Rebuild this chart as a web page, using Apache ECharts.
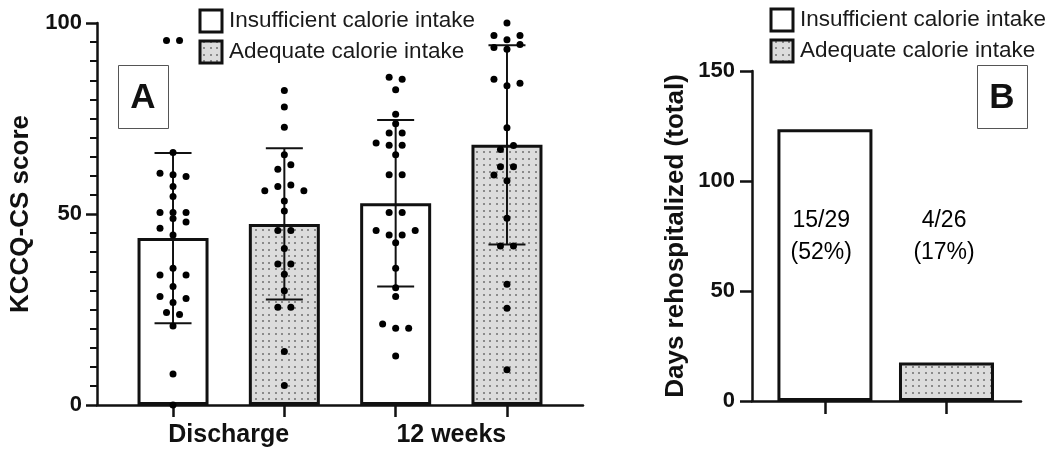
<!DOCTYPE html>
<html><head><meta charset="utf-8">
<script src="https://cdn.jsdelivr.net/npm/echarts@6/dist/echarts.min.js"></script>
<style>html,body{margin:0;padding:0;background:#fff}#c{width:1050px;height:455px}</style>
</head><body><div id="c"></div>
<script>
// ---------- DATA ----------
const timepoints = ['Discharge', '12 weeks'];
const groupNames = ['Insufficient calorie intake', 'Adequate calorie intake'];

const kccqMeanInsufficient = [43.7, 52.8];
const kccqSdInsufficient   = [22.3, 21.8];
const kccqMeanAdequate     = [47.4, 68.1];
const kccqSdAdequate       = [19.8, 26.1];

// individual KCCQ-CS scores (with beeswarm column offsets, in dot widths)
const dischargeInsufficient = [95.4, 95.4, 66.1, 60.7, 60.3, 59.8, 57.2, 54.6, 50.4, 50.4, 50.4, 48.8, 47.9, 46.3, 44.5, 35.8, 34.0, 34.0, 31.0, 28.4, 27.9, 26.8, 24.2, 23.7, 20.7, 8.1, 0];
const dischargeInsufficientCol = [-0.5, 0.5, 0, -1, 0, 1, 0, 0, -1, 0, 1, 0, 1, -1, 0, 0, -1, 1, 0, -1, 1, 0, -0.5, 0.5, 0, 0, 0];
const dischargeAdequate = [82.3, 78.0, 72.7, 65.5, 62.9, 61.7, 57.6, 57.2, 56.1, 56.1, 53.4, 50.8, 45.7, 45.7, 41.0, 36.9, 36.9, 34.2, 29.9, 25.6, 25.6, 14.0, 5.1];
const dischargeAdequateCol = [0, 0, 0, 0, 0.5, -0.5, 0.5, -0.5, -1.5, 1.5, 0, 0, -0.5, 0.5, 0, -0.5, 0.5, 0, 0, -0.5, 0.5, 0, 0];
const week12Insufficient = [85.8, 85.3, 82.5, 76.1, 73.6, 71.2, 71.2, 68.6, 68.0, 68.0, 65.5, 60.3, 60.3, 50.4, 50.4, 45.7, 45.7, 44.5, 44.5, 42.5, 35.8, 30.7, 28.4, 21.2, 20.1, 20.1, 12.8];
const week12InsufficientCol = [-0.5, 0.5, 0, 0, 0, -0.5, 0.5, -1.5, -0.5, 0.5, 0, -0.5, 0.5, -0.5, 0.5, -1.5, 1.5, -0.5, 0.5, 0, 0, 0, 0, -1, 0, 1, 0];
const week12Adequate = [100, 96.7, 96.7, 95.6, 94.4, 93.6, 93.1, 85.3, 84.2, 83.6, 72.6, 67.9, 66.9, 62.4, 62.4, 60.2, 58.7, 48.9, 41.6, 41.6, 31.6, 25.3, 9.2];
const week12AdequateCol = [0, -1, 1, 0, 1, -1, 0, -1, 1, 0, 0, 0.5, -0.5, -0.5, 0.5, -1, 0, 0, -0.5, 0.5, 0, 0, 0];

const daysRehospitalized = [123.5, 17.5];
const rehospLabels = ['15/29\n(52%)', '4/26\n(17%)'];

const yTicksA = [0, 50, 100];
const yTicksB = [0, 50, 100, 150];

// ---------- STYLE / BUILD ----------
const FONT = '"Liberation Sans", Arial, sans-serif';
const INK = '#111';
function makePattern() {
  const c = document.createElement('canvas');
  c.width = 13; c.height = 13;
  const g = c.getContext('2d');
  g.fillStyle = '#dcdcdc'; g.fillRect(0, 0, 13, 13);
  g.fillStyle = '#8a8a8a';
  [[2, 2], [8, 2], [2, 8], [8, 8]].forEach(([x, y]) => g.fillRect(x, y, 2, 2));
  return c;
}
const dotted = { image: makePattern(), repeat: 'repeat' };

const DOT_STEP = 0.117; // x-units per dot column
function pos(t, g) { return 2 * t + g + 1; }
function dots(vals, cols, x) { return vals.map((v, i) => [x + cols[i] * DOT_STEP, v]); }

const allDots = [].concat(
  dots(dischargeInsufficient, dischargeInsufficientCol, pos(0, 0)),
  dots(dischargeAdequate, dischargeAdequateCol, pos(0, 1)),
  dots(week12Insufficient, week12InsufficientCol, pos(1, 0)),
  dots(week12Adequate, week12AdequateCol, pos(1, 1))
);
const errData = [];
timepoints.forEach((t, i) => {
  errData.push([pos(i, 0), kccqMeanInsufficient[i], kccqSdInsufficient[i]]);
  errData.push([pos(i, 1), kccqMeanAdequate[i], kccqSdAdequate[i]]);
});
const labelMap = {};
timepoints.forEach((t, i) => { labelMap[(pos(i, 0) + pos(i, 1)) / 2] = t; });

const chart = echarts.init(document.getElementById('c'), null, { renderer: 'canvas' });

const axisLineStyle = { color: INK, width: 2.5 };
function legendGraphic(x0, y0) {
  return [
    { type: 'rect', shape: { x: x0, y: y0, width: 22, height: 22 }, style: { fill: '#fff', stroke: INK, lineWidth: 3 } },
    { type: 'text', x: x0 + 29, y: y0 + 11, style: { text: groupNames[0], font: '22.5px ' + FONT, fill: '#1a1a1a', verticalAlign: 'middle' } },
    { type: 'rect', shape: { x: x0, y: y0 + 31, width: 22, height: 22 }, style: { fill: dotted, stroke: INK, lineWidth: 3 } },
    { type: 'text', x: x0 + 29, y: y0 + 42, style: { text: groupNames[1], font: '22.5px ' + FONT, fill: '#1a1a1a', verticalAlign: 'middle' } }
  ];
}
function panelLabel(x, y, letter) {
  return [
    { type: 'rect', shape: { x: x + 0.5, y: y + 0.5, width: 50, height: 63 }, style: { fill: '#fff', stroke: '#555', lineWidth: 1 } },
    { type: 'text', x: x + 25, y: y + 33, style: { text: letter, font: 'bold 35px ' + FONT, fill: INK, align: 'center', verticalAlign: 'middle' } }
  ];
}

chart.setOption({
  animation: false,
  backgroundColor: '#fff',
  grid: [
    { left: 97, top: 23, width: 486, height: 382 },
    { left: 752, top: 71, width: 269, height: 330 }
  ],
  xAxis: [
    {
      type: 'value', gridIndex: 0, min: 0.317, max: 4.683,
      splitLine: { show: false },
      axisLine: { show: true, lineStyle: axisLineStyle },
      axisTick: { show: true, customValues: [1, 2, 3, 4], length: 12, lineStyle: { color: INK, width: 2.5 } },
      axisLabel: {
        customValues: Object.keys(labelMap).map(Number),
        formatter: v => labelMap[v] || '',
        margin: 18, fontSize: 25, fontWeight: 'bold', color: INK, fontFamily: FONT
      }
    },
    {
      type: 'value', gridIndex: 1, min: 0.4, max: 2.613,
      splitLine: { show: false },
      axisLine: { show: true, lineStyle: axisLineStyle },
      axisTick: { show: true, customValues: [1, 2], length: 13, lineStyle: { color: INK, width: 2.5 } },
      axisLabel: { show: false }
    }
  ],
  yAxis: [
    {
      type: 'value', gridIndex: 0, min: yTicksA[0], max: yTicksA[yTicksA.length - 1], interval: yTicksA[1] - yTicksA[0],
      splitLine: { show: false },
      axisLine: { show: true, lineStyle: axisLineStyle },
      axisTick: { show: true, length: 11, lineStyle: { color: INK, width: 2.5 } },
      minorTick: { show: true, splitNumber: 10, length: 7, lineStyle: { color: INK, width: 2 } },
      axisLabel: { margin: 15, fontSize: 22, fontWeight: 'bold', color: INK, fontFamily: FONT },
      name: 'KCCQ-CS score', nameLocation: 'middle', nameGap: 63,
      nameTextStyle: { fontSize: 26, fontWeight: 'bold', color: INK, fontFamily: FONT }
    },
    {
      type: 'value', gridIndex: 1, min: yTicksB[0], max: yTicksB[yTicksB.length - 1], interval: yTicksB[1] - yTicksB[0],
      splitLine: { show: false },
      axisLine: { show: true, lineStyle: axisLineStyle },
      axisTick: { show: true, length: 12, lineStyle: { color: INK, width: 2.5 } },
      axisLabel: { margin: 17, fontSize: 22, fontWeight: 'bold', color: INK, fontFamily: FONT },
      name: 'Days rehospitalized (total)', nameLocation: 'middle', nameGap: 63,
      nameTextStyle: { fontSize: 26, fontWeight: 'bold', color: INK, fontFamily: FONT }
    }
  ],
  series: [
    {
      type: 'bar', xAxisIndex: 0, yAxisIndex: 0, barWidth: 71, barGap: '-100%', z: 2,
      data: timepoints.map((t, i) => [pos(i, 0), kccqMeanInsufficient[i]]),
      itemStyle: { color: '#fff', borderColor: INK, borderWidth: 3 }
    },
    {
      type: 'bar', xAxisIndex: 0, yAxisIndex: 0, barWidth: 71, barGap: '-100%', z: 2,
      data: timepoints.map((t, i) => [pos(i, 1), kccqMeanAdequate[i]]),
      itemStyle: { color: dotted, borderColor: INK, borderWidth: 3 }
    },
    {
      type: 'custom', xAxisIndex: 0, yAxisIndex: 0, z: 3,
      encode: { x: 0, y: 1 },
      data: errData,
      renderItem: function (params, api) {
        const x = api.value(0), m = api.value(1), s = api.value(2);
        const top = api.coord([x, m + s]);
        const bot = api.coord([x, m - s]);
        const hw = 18.5;
        const st = { stroke: INK, lineWidth: 2 };
        return {
          type: 'group', children: [
            { type: 'line', shape: { x1: top[0], y1: top[1], x2: bot[0], y2: bot[1] }, style: st },
            { type: 'line', shape: { x1: top[0] - hw, y1: top[1], x2: top[0] + hw, y2: top[1] }, style: st },
            { type: 'line', shape: { x1: bot[0] - hw, y1: bot[1], x2: bot[0] + hw, y2: bot[1] }, style: st }
          ]
        };
      }
    },
    {
      type: 'scatter', xAxisIndex: 0, yAxisIndex: 0, z: 4,
      symbol: 'circle', symbolSize: 7, clip: false,
      itemStyle: { color: '#000', opacity: 1 },
      data: allDots
    },
    {
      type: 'bar', xAxisIndex: 1, yAxisIndex: 1, barWidth: 95, z: 2,
      data: daysRehospitalized.map((v, i) => ({
        value: [i + 1, v],
        itemStyle: { color: i === 0 ? '#fff' : dotted, borderColor: INK, borderWidth: 3 }
      }))
    },
    {
      type: 'scatter', xAxisIndex: 1, yAxisIndex: 1, z: 5, symbolSize: 0,
      data: rehospLabels.map((t, i) => [i === 0 ? 0.97 : 1.98, 74.5, t]),
      label: {
        show: true, position: 'inside', formatter: p => p.data[2], opacity: 1,
        fontSize: 23, lineHeight: 32, color: '#000', textBorderWidth: 0, fontFamily: FONT, align: 'center', verticalAlign: 'middle'
      },
      emphasis: { disabled: true }
    }
  ],
  graphic: [].concat(
    legendGraphic(200, 10),
    legendGraphic(771, 9),
    panelLabel(118, 65, 'A'),
    panelLabel(977, 65, 'B')
  )
});
</script>
</body></html>
